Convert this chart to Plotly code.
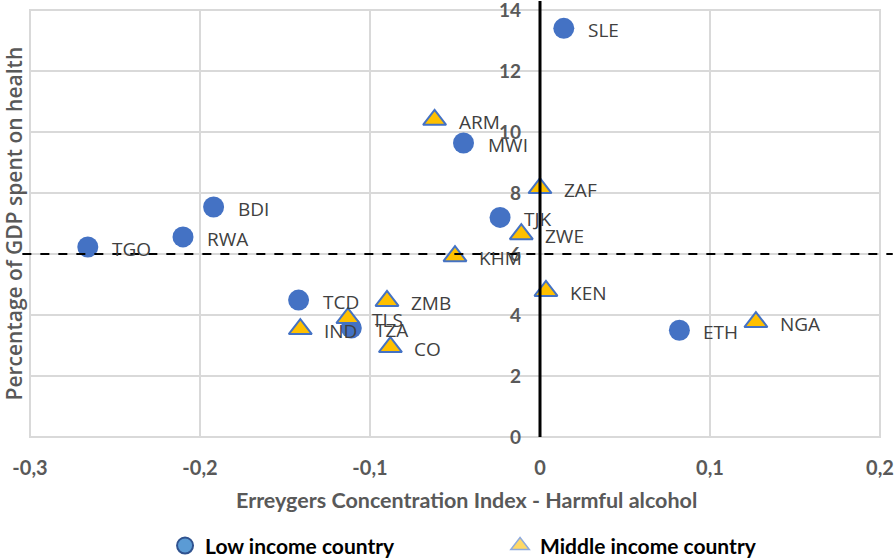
import plotly.graph_objects as go

# Low income countries
low_names = ["SLE", "MWI", "BDI", "TJK", "RWA", "TGO", "TCD", "TZA", "ETH"]
low_x = [0.014, -0.045, -0.192, -0.0235, -0.210, -0.266, -0.142, -0.111, 0.082]
low_y = [13.4, 9.64, 7.54, 7.2, 6.56, 6.23, 4.49, 3.57, 3.5]

# Middle income countries
mid_names = ["ARM", "ZAF", "ZWE", "KHM", "ZMB", "KEN", "TLS", "IND", "CO", "NGA"]
mid_x = [-0.062, 0.0, -0.011, -0.050, -0.090, 0.0035, -0.113, -0.141, -0.088, 0.127]
mid_y = [10.4, 8.16, 6.65, 5.93, 4.46, 4.79, 3.9, 3.54, 2.95, 3.77]

x_ticks = [-0.3, -0.2, -0.1, 0, 0.1, 0.2]
x_ticktext = ["-0,3", "-0,2", "-0,1", "0", "0,1", "0,2"]
y_ticks = [0, 2, 4, 6, 8, 10, 12, 14]
ref_line_y = 6

BLUE = "#4472C4"
GOLD = "#FFC000"
GRID = "#D9D9D9"
TXT = "#595959"

fig = go.Figure()
fig.add_trace(go.Scatter(
    x=low_x, y=low_y, mode="markers", name="Low income country", showlegend=False,
    marker=dict(symbol="circle", size=21, color=BLUE, line=dict(width=0)),
    cliponaxis=False,
))
fig.add_trace(go.Scatter(
    x=mid_x, y=mid_y, mode="markers", name="Middle income country", showlegend=False,
    marker=dict(symbol="triangle-up", size=20, color=GOLD, line=dict(width=2, color=BLUE)),
    cliponaxis=False,
))
# legend entries
fig.add_trace(go.Scatter(
    x=[None], y=[None], mode="markers", name="Low income country",
    marker=dict(symbol="circle", size=16, color="#5B9BD5", line=dict(width=2, color="#2F528F")),
))
fig.add_trace(go.Scatter(
    x=[None], y=[None], mode="markers", name="Middle income country",
    marker=dict(symbol="triangle-up", size=16, color="#FFD966", line=dict(width=1.5, color="#8FAADC")),
))

# data labels
for names, xs, ys in [(low_names, low_x, low_y), (mid_names, mid_x, mid_y)]:
    for n, x, y in zip(names, xs, ys):
        fig.add_annotation(x=x, y=y, text=n, showarrow=False, xanchor="left",
                           yanchor="middle", xshift=22, yshift=-2,
                           font=dict(family="Open Sans", size=19, color="#404040"))

# dashed reference line
fig.add_shape(type="line", xref="paper", yref="y", x0=-0.009, x1=1.015, y0=ref_line_y, y1=ref_line_y,
              line=dict(color="black", width=2, dash="dash"), layer="above")
# vertical zero line
fig.add_shape(type="line", xref="x", yref="paper", x0=0, x1=0, y0=0, y1=1.021,
              line=dict(color="black", width=3), layer="above")

# frame
fig.add_shape(type="rect", xref="paper", yref="paper", x0=0, x1=1, y0=0, y1=1,
              line=dict(color=GRID, width=2), layer="below")

# axis titles
fig.add_annotation(text="Percentage of GDP spent on health", xref="paper", yref="paper",
                   x=-0.02, y=0.5, textangle=-90, showarrow=False, xanchor="center",
                   yanchor="middle", font=dict(family="Open Sans", size=21, color=TXT, weight=600))
fig.add_annotation(text="Erreygers Concentration Index - Harmful alcohol", xref="paper", yref="paper",
                   x=0.513, y=-0.148, showarrow=False, xanchor="center", yanchor="middle",
                   font=dict(family="Lato", size=21.5, color=TXT, weight="bold"))

fig.update_layout(
    width=896, height=560,
    margin=dict(l=30, r=16, t=10, b=123, autoexpand=False),
    plot_bgcolor="white", paper_bgcolor="white",
    font=dict(family="Lato", color=TXT),
    xaxis=dict(range=[-0.3, 0.2], tickvals=x_ticks, ticktext=x_ticktext,
               showgrid=True, gridcolor=GRID, gridwidth=2, automargin=False,
               zeroline=False,
               showline=False, ticks="", ticklabelstandoff=17, ticklabeloverflow="allow",
               tickfont=dict(family="Lato", size=20, color=TXT, weight="bold")),
    yaxis=dict(range=[0, 14], tickvals=y_ticks, anchor="free", position=0.6,
               showgrid=True, gridcolor=GRID, gridwidth=2, zeroline=False, automargin=False,
               showline=False, ticks="", ticklabelstandoff=19, ticklabeloverflow="allow",
               tickfont=dict(family="Lato", size=19, color=TXT, weight="bold")),
    legend=dict(orientation="h", x=0.553, y=-0.255, xanchor="center", yanchor="middle",
                font=dict(family="Lato", size=21, color="black", weight="bold"),
                entrywidth=290, entrywidthmode="pixels"),
    showlegend=True,
)

fig.write_html("out.html", config={"displayModeBar": False},
               post_script="document.body.style.margin='0';")
